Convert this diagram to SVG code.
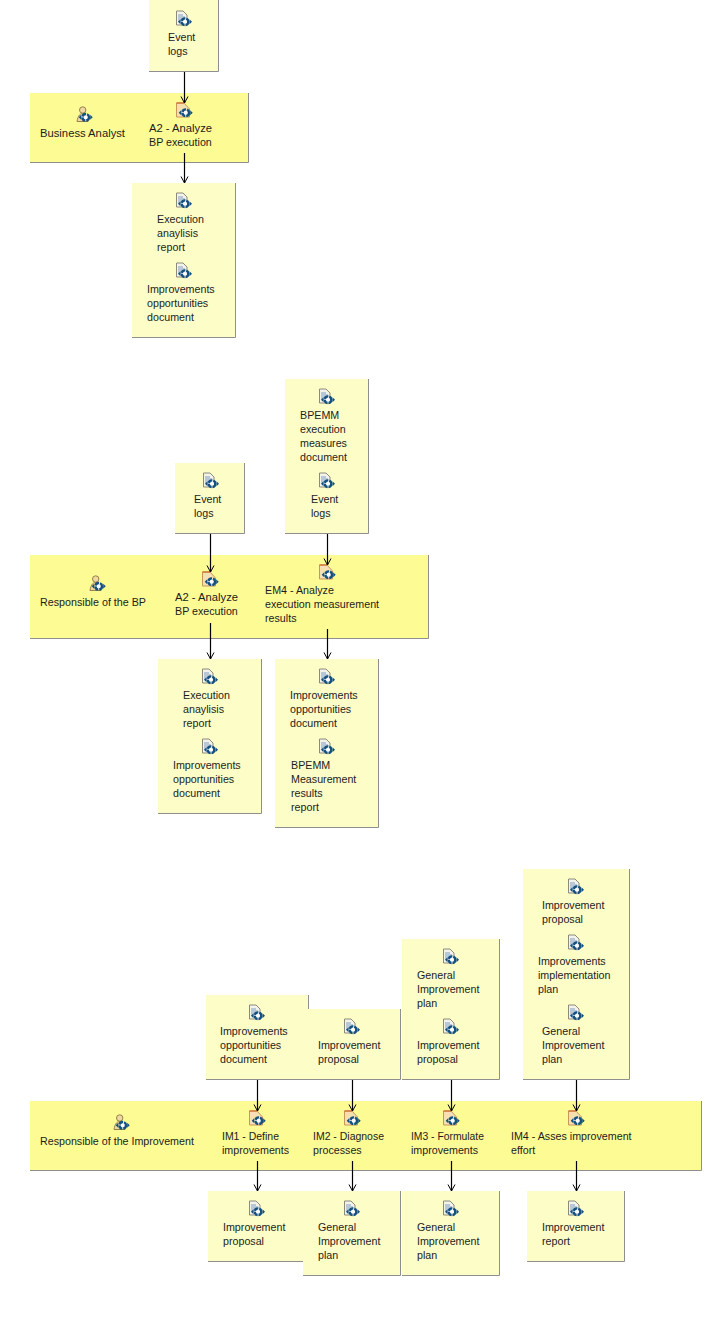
<svg xmlns="http://www.w3.org/2000/svg" width="722" height="1317" viewBox="0 0 722 1317">
<style>
text{font-family:"Liberation Sans",Arial,sans-serif;font-size:10.7px;fill:#1c1c1c}
.doc{fill:#fdfdc8}
.band{fill:#fdfb94}
.edge{fill:none;stroke:#8f8f8f;stroke-width:1}
.c{fill:none;stroke:#000;stroke-width:1.2;marker-end:url(#a)}
</style>
<defs>
<marker id="a" markerUnits="userSpaceOnUse" markerWidth="10" markerHeight="10" refX="9" refY="5" orient="auto" viewBox="0 0 10 10"><path d="M2.500 1.500L9 5L2.500 8.500" fill="none" stroke="#000" stroke-width="1"/></marker>
<g id="cycle"><circle cx="0" cy="0" r="3.300" fill="#fff" stroke="#14517f" stroke-width="2.400" stroke-dasharray="4.500 1"/><path d="M-7 0L-4.500 -2.500V2.500ZM7 0L4.500 -2.500V2.500Z" fill="#14517f"/></g>
<g id="i-doc"><path d="M-6.500 -8H0L4 -4V6H-6.500Z" fill="#f3f3ea" stroke="#8d8a7a"/><path d="M-5 -4H0M-5 -2H2M-5 0H1M-5 2H-1" stroke="#7f9cc4" stroke-width="1"/><use href="#cycle" x="2" y="2.700"/></g>
<g id="i-act"><path d="M-7.500 -7H0L5.500 -1V7H-7.500Z" fill="#f7dfb4" stroke="#c9975a"/><path d="M-7.500 -7H0" stroke="#cf6a2a" stroke-width="1.200"/><use href="#cycle" x="1.700" y="2.700"/></g>
<g id="i-role"><circle cx="-1.300" cy="-5" r="3.200" fill="#efd9a0" stroke="#97824a"/><path d="M-7 6.500C-6 0 -3.500 -1.500 -1.300 -1.500S3 0 4 6.500Z" fill="#efd9a0" stroke="#97824a"/><use href="#cycle" x="1.700" y="2.300"/></g>
</defs>

<g id="n1"><path class="doc" d="M149 0H218V71H149Z"/><path class="edge" d="M218.500 0V71.500H149"/><use href="#i-doc" x="183" y="19"/><text x="168" y="41">Event</text><text x="168" y="55">logs</text></g>
<g id="b1"><path class="band" d="M30 93H248V162H30Z"/><path class="edge" d="M248.500 93V162.500H30"/><use href="#i-role" x="84" y="115"/><use href="#i-act" x="184" y="110"/><text x="40" y="137" textLength="85" lengthAdjust="spacingAndGlyphs">Business Analyst</text><text x="149" y="132" textLength="63" lengthAdjust="spacingAndGlyphs">A2 - Analyze</text><text x="149" y="146">BP execution</text></g>
<g id="n2"><path class="doc" d="M132 183H235V337H132Z"/><path class="edge" d="M235.500 183V337.500H132"/><use href="#i-doc" x="183" y="201"/><text x="157" y="223">Execution</text><text x="157" y="237">anaylisis</text><text x="157" y="251">report</text><use href="#i-doc" x="183" y="271"/><text x="147" y="293">Improvements</text><text x="147" y="307">opportunities</text><text x="147" y="321">document</text></g>

<g id="n3"><path class="doc" d="M175 463H244V533H175Z"/><path class="edge" d="M244.500 463V533.500H175"/><use href="#i-doc" x="210" y="481"/><text x="194" y="503">Event</text><text x="194" y="517">logs</text></g>
<g id="n4"><path class="doc" d="M285 379H368V533H285Z"/><path class="edge" d="M368.500 379V533.500H285"/><use href="#i-doc" x="326" y="397"/><text x="300" y="419">BPEMM</text><text x="300" y="433">execution</text><text x="300" y="447">measures</text><text x="300" y="461">document</text><use href="#i-doc" x="326" y="481"/><text x="311" y="503">Event</text><text x="311" y="517">logs</text></g>
<g id="b2"><path class="band" d="M30 555H428V638H30Z"/><path class="edge" d="M428.500 555V638.500H30"/><use href="#i-role" x="97" y="584"/><use href="#i-act" x="210" y="579"/><use href="#i-act" x="327" y="572"/><text x="40" y="606" textLength="106" lengthAdjust="spacingAndGlyphs">Responsible of the BP</text><text x="175" y="601" textLength="63" lengthAdjust="spacingAndGlyphs">A2 - Analyze</text><text x="175" y="615">BP execution</text><text x="265" y="594">EM4 - Analyze</text><text x="265" y="608">execution measurement</text><text x="265" y="622">results</text></g>
<g id="n5"><path class="doc" d="M158 659H261V813H158Z"/><path class="edge" d="M261.500 659V813.500H158"/><use href="#i-doc" x="209" y="677"/><text x="183" y="699">Execution</text><text x="183" y="713">anaylisis</text><text x="183" y="727">report</text><use href="#i-doc" x="209" y="747"/><text x="173" y="769">Improvements</text><text x="173" y="783">opportunities</text><text x="173" y="797">document</text></g>
<g id="n6"><path class="doc" d="M275 659H378V827H275Z"/><path class="edge" d="M378.500 659V827.500H275"/><use href="#i-doc" x="326" y="677"/><text x="290" y="699">Improvements</text><text x="290" y="713">opportunities</text><text x="290" y="727">document</text><use href="#i-doc" x="326" y="747"/><text x="291" y="769">BPEMM</text><text x="291" y="783">Measurement</text><text x="291" y="797">results</text><text x="291" y="811">report</text></g>

<g id="n7"><path class="doc" d="M206 995H308V1079H206Z"/><path class="edge" d="M308.500 995V1079.500H206"/><use href="#i-doc" x="256" y="1013"/><text x="220" y="1035">Improvements</text><text x="220" y="1049">opportunities</text><text x="220" y="1063">document</text></g>
<g id="n8"><path class="doc" d="M303 1009H400V1079H303Z"/><path class="edge" d="M400.500 1009V1079.500H303"/><use href="#i-doc" x="351" y="1027"/><text x="318" y="1049">Improvement</text><text x="318" y="1063">proposal</text></g>
<g id="n9"><path class="doc" d="M402 939H499V1079H402Z"/><path class="edge" d="M499.500 939V1079.500H402"/><use href="#i-doc" x="450" y="957"/><text x="417" y="979">General</text><text x="417" y="993">Improvement</text><text x="417" y="1007">plan</text><use href="#i-doc" x="450" y="1027"/><text x="417" y="1049">Improvement</text><text x="417" y="1063">proposal</text></g>
<g id="n10"><path class="doc" d="M523 869H629V1079H523Z"/><path class="edge" d="M629.500 869V1079.500H523"/><use href="#i-doc" x="575" y="887"/><text x="542" y="909">Improvement</text><text x="542" y="923">proposal</text><use href="#i-doc" x="575" y="943"/><text x="538" y="965">Improvements</text><text x="538" y="979">implementation</text><text x="538" y="993">plan</text><use href="#i-doc" x="575" y="1013"/><text x="542" y="1035">General</text><text x="542" y="1049">Improvement</text><text x="542" y="1063">plan</text></g>
<g id="b3"><path class="band" d="M30 1101H701V1170H30Z"/><path class="edge" d="M701.500 1101V1170.500H30"/><use href="#i-role" x="121" y="1123"/><use href="#i-act" x="257" y="1118"/><use href="#i-act" x="352" y="1118"/><use href="#i-act" x="451" y="1118"/><use href="#i-act" x="576" y="1118"/><text x="40" y="1145">Responsible of the Improvement</text><text x="222" y="1140" textLength="57" lengthAdjust="spacingAndGlyphs">IM1 - Define</text><text x="222" y="1154">improvements</text><text x="313" y="1140" textLength="71" lengthAdjust="spacingAndGlyphs">IM2 - Diagnose</text><text x="313" y="1154">processes</text><text x="411" y="1140" textLength="73" lengthAdjust="spacingAndGlyphs">IM3 - Formulate</text><text x="411" y="1154">improvements</text><text x="511" y="1140">IM4 - Asses improvement</text><text x="511" y="1154">effort</text></g>
<g id="n11"><path class="doc" d="M208 1191H306V1261H208Z"/><path class="edge" d="M306.500 1191V1261.500H208"/><use href="#i-doc" x="256" y="1209"/><text x="223" y="1231">Improvement</text><text x="223" y="1245">proposal</text></g>
<g id="n12"><path class="doc" d="M303 1191H400V1275H303Z"/><path class="edge" d="M400.500 1191V1275.500H303"/><use href="#i-doc" x="351" y="1209"/><text x="318" y="1231">General</text><text x="318" y="1245">Improvement</text><text x="318" y="1259">plan</text></g>
<g id="n13"><path class="doc" d="M402 1191H499V1275H402Z"/><path class="edge" d="M499.500 1191V1275.500H402"/><use href="#i-doc" x="450" y="1209"/><text x="417" y="1231">General</text><text x="417" y="1245">Improvement</text><text x="417" y="1259">plan</text></g>
<g id="n14"><path class="doc" d="M527 1191H624V1261H527Z"/><path class="edge" d="M624.500 1191V1261.500H527"/><use href="#i-doc" x="575" y="1209"/><text x="542" y="1231">Improvement</text><text x="542" y="1245">report</text></g>

<g id="connectors">
<path class="c" d="M184.500 72V103"/><path class="c" d="M184.500 153V183"/>
<path class="c" d="M210.500 534V572"/><path class="c" d="M210.500 623V659"/>
<path class="c" d="M327.500 534V565"/><path class="c" d="M327.500 629V659"/>
<path class="c" d="M257.500 1080V1111"/><path class="c" d="M257.500 1161V1191"/>
<path class="c" d="M352.500 1080V1111"/><path class="c" d="M352.500 1161V1191"/>
<path class="c" d="M451.500 1080V1111"/><path class="c" d="M451.500 1161V1191"/>
<path class="c" d="M576.500 1080V1111"/><path class="c" d="M576.500 1161V1191"/>
</g>
</svg>
